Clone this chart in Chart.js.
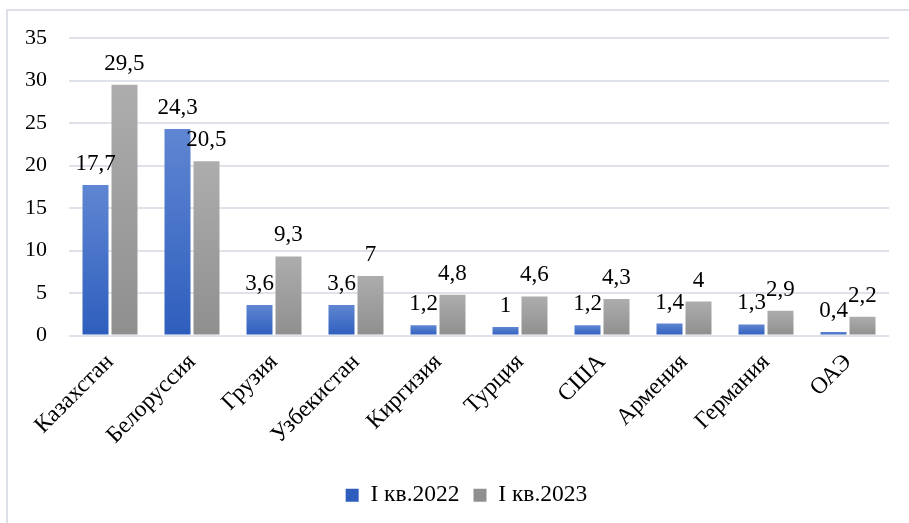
<!DOCTYPE html>
<html lang="ru">
<head>
<meta charset="utf-8">
<script src="https://cdn.jsdelivr.net/npm/chart.js@4"></script>
<style>
    html, body { margin: 0; padding: 0; background: #fff; }
    #wrap { width: 909px; height: 523px; }
</style>
</head>
<body>
<div id="wrap"><canvas id="exportChart" width="909" height="523"></canvas></div>
<script>
// Top-10 countries, I quarter 2022 vs I quarter 2023
const countries = ['Казахстан', 'Белоруссия', 'Грузия', 'Узбекистан', 'Киргизия', 'Турция', 'США', 'Армения', 'Германия', 'ОАЭ'];
const seriesNames = ['I кв.2022', 'I кв.2023'];
const q1_2022 = [17.7, 24.3, 3.6, 3.6, 1.2, 1, 1.2, 1.4, 1.3, 0.4];
const q1_2023 = [29.5, 20.5, 9.3, 7, 4.8, 4.6, 4.3, 4, 2.9, 2.2];
const yTicks = [0, 5, 10, 15, 20, 25, 30, 35];

const SERIF = '"Liberation Serif", "Times New Roman", serif';
const FONT = { family: SERIF, size: 23.5 };
const TICK_FONT = { family: SERIF, size: 22 };

// each bar gets its own top-to-bottom gradient, like the Excel fill
function barGradient(context, stops, flat) {
    const chart = context.chart;
    if (context.type !== 'data' || !chart.chartArea || !chart.scales.y) {
        return flat;
    }
    const y = chart.scales.y;
    const top = y.getPixelForValue(context.raw);
    const bottom = y.getPixelForValue(0);
    if (!isFinite(top) || !isFinite(bottom) || top === bottom) {
        return flat;
    }
    const g = chart.ctx.createLinearGradient(0, top, 0, bottom);
    g.addColorStop(0, stops[0]);
    g.addColorStop(1, stops[1]);
    return g;
}

const frame = {
    id: 'frame',
    beforeDraw(chart) {
        const ctx = chart.ctx;
        ctx.save();
        ctx.strokeStyle = '#dde1e7';
        ctx.lineWidth = 2;
        ctx.beginPath();
        ctx.moveTo(909, 10);
        ctx.lineTo(7, 10);
        ctx.lineTo(7, 523);
        ctx.stroke();
        ctx.restore();
    }
};

// legend sits a bit right of the canvas centre in the original
const legendShift = {
    id: 'legendShift',
    afterLayout(chart) {
        if (chart.legend) {
            chart.legend.left += 22;
            chart.legend.right += 22;
        }
    }
};

const valueLabels = {
    id: 'valueLabels',
    afterDatasetsDraw(chart) {
        const ctx = chart.ctx;
        ctx.save();
        ctx.font = '23px ' + SERIF;
        ctx.fillStyle = '#000';
        ctx.textAlign = 'center';
        ctx.textBaseline = 'alphabetic';
        chart.data.datasets.forEach((ds, i) => {
            chart.getDatasetMeta(i).data.forEach((bar, j) => {
                const txt = String(ds.data[j]).replace('.', ',');
                ctx.fillText(txt, bar.x, bar.y - 15);
            });
        });
        ctx.restore();
    }
};

const ctx = document.getElementById('exportChart').getContext('2d');
new Chart(ctx, {
    type: 'bar',
    data: {
        labels: countries,
        datasets: [
            {
                label: seriesNames[0],
                data: q1_2022,
                backgroundColor: (c) => barGradient(c, ['#5f86d2', '#2e5ebd'], '#4472c4'),
            },
            {
                label: seriesNames[1],
                data: q1_2023,
                backgroundColor: (c) => barGradient(c, ['#adadad', '#8f8f8f'], '#a5a5a5'),
            }
        ]
    },
    options: {
        responsive: false,
        animation: false,
        devicePixelRatio: 1,
        layout: {
            padding: { left: 0, right: 20, top: 38, bottom: 6 }
        },
        datasets: {
            bar: {
                categoryPercentage: 0.707,
                barPercentage: 0.897,
            }
        },
        scales: {
            x: {
                grid: { display: false, drawTicks: false },
                border: { display: false },
                ticks: {
                    color: '#000',
                    font: FONT,
                    minRotation: 45,
                    maxRotation: 45,
                    padding: 13,
                },
                afterFit: (scale) => { scale.height = 134; }
            },
            y: {
                min: 0,
                max: 35,
                afterBuildTicks: (scale) => { scale.ticks = yTicks.map(v => ({ value: v })); },
                grid: { color: '#dfe3e9', lineWidth: 2, drawTicks: false },
                border: { display: false },
                ticks: {
                    color: '#000',
                    font: TICK_FONT,
                    padding: 22,
                },
                afterFit: (scale) => { scale.width = 69; }
            }
        },
        plugins: {
            legend: {
                position: 'bottom',
                labels: {
                    color: '#000',
                    font: FONT,
                    boxWidth: 13,
                    boxHeight: 13,
                    padding: 14,
                }
            },
            tooltip: { enabled: false }
        }
    },
    plugins: [frame, legendShift, valueLabels]
});
</script>
</body>
</html>
